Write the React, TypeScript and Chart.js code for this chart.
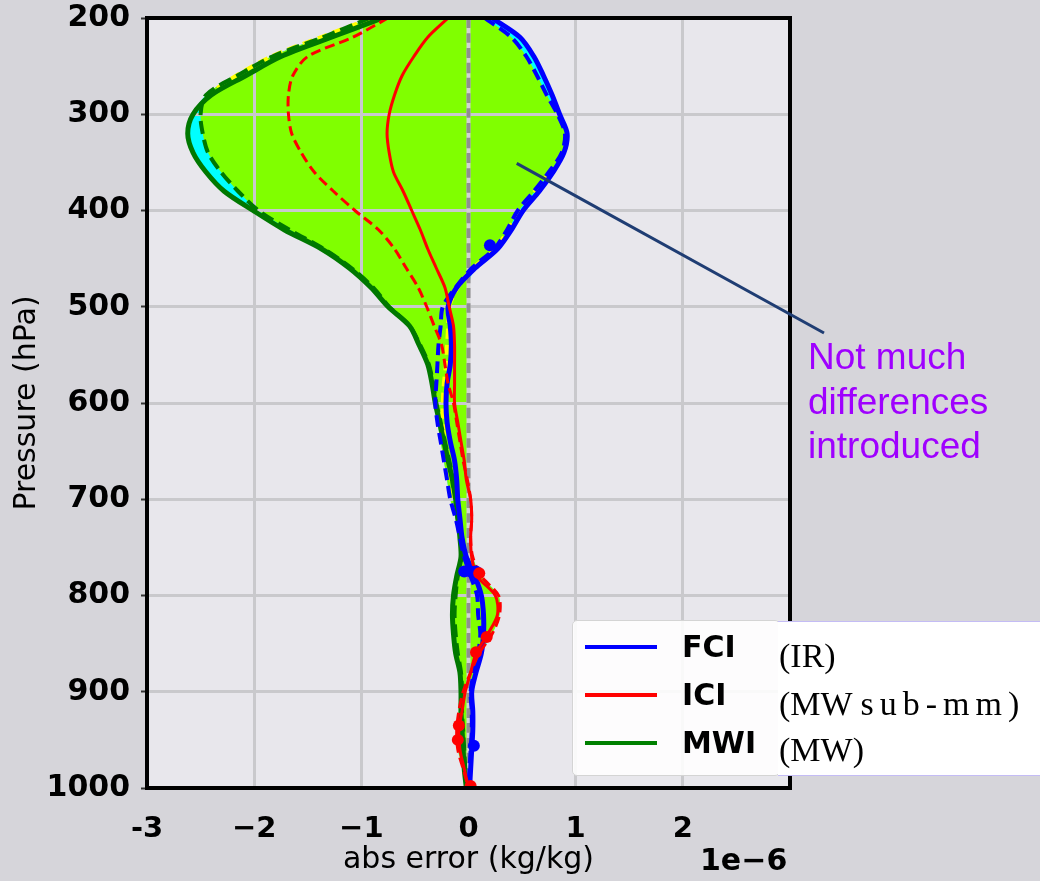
import React, { useEffect, useRef } from 'react';
import { Chart, registerables } from 'chart.js';

Chart.register(...registerables);

// Pressure levels (hPa)
const pressureLevels = [
  200, 220, 240, 260, 280, 300, 320, 340, 360, 380,
  400, 420, 440, 460, 480, 500, 520, 540, 560, 580,
  600, 620, 640, 660, 680, 700, 720, 740, 760, 780,
  800, 820, 840, 860, 880, 900, 920, 940, 960, 980, 1000,
];

// abs error values (x 1e-6 kg/kg)
const fciSolid = [
  0.22, 0.48, 0.61, 0.70, 0.78, 0.85, 0.92, 0.89, 0.79, 0.66,
  0.51, 0.40, 0.27, 0.06, -0.11, -0.19, -0.17, -0.16, -0.17, -0.20,
  -0.21, -0.20, -0.17, -0.13, -0.11, -0.10, -0.08, -0.06, -0.02, 0.06,
  0.12, 0.14, 0.14, 0.12, 0.07, 0.03, 0.04, 0.04, 0.03, 0.02, 0.01,
];
const fciDashed = [
  0.15, 0.40, 0.54, 0.64, 0.73, 0.83, 0.90, 0.87, 0.75, 0.61,
  0.46, 0.36, 0.24, 0.03, -0.12, -0.24, -0.26, -0.28, -0.29, -0.30,
  -0.31, -0.29, -0.26, -0.23, -0.20, -0.17, -0.12, -0.08, -0.04, 0.02,
  0.08, 0.09, 0.11, 0.09, 0.05, 0.02, 0.03, 0.03, 0.02, 0.01, 0.0,
];
const iciSolid = [
  -0.19, -0.38, -0.51, -0.62, -0.69, -0.74, -0.76, -0.74, -0.70, -0.61,
  -0.53, -0.45, -0.38, -0.30, -0.22, -0.18, -0.14, -0.13, -0.13, -0.13,
  -0.13, -0.10, -0.07, -0.04, -0.02, 0.02, 0.03, 0.02, 0.03, 0.08,
  0.25, 0.27, 0.18, 0.07, 0.02, -0.03, -0.06, -0.09, -0.08, -0.04, 0.0,
];
const iciDashed = [
  -0.75, -1.08, -1.50, -1.64, -1.68, -1.68, -1.65, -1.56, -1.44, -1.26,
  -1.06, -0.84, -0.69, -0.58, -0.47, -0.39, -0.32, -0.25, -0.22, -0.19,
  -0.14, -0.11, -0.08, -0.05, -0.01, 0.02, 0.03, 0.02, 0.04, 0.12,
  0.28, 0.29, 0.22, 0.10, 0.02, -0.05, -0.09, -0.11, -0.10, -0.05, 0.0,
];
const mwiSolid = [
  -0.80, -1.28, -1.75, -2.08, -2.40, -2.57, -2.62, -2.57, -2.45, -2.28,
  -2.01, -1.72, -1.37, -1.11, -0.91, -0.75, -0.55, -0.46, -0.38, -0.34,
  -0.31, -0.27, -0.23, -0.19, -0.15, -0.12, -0.10, -0.08, -0.07, -0.11,
  -0.14, -0.15, -0.14, -0.12, -0.08, -0.07, -0.07, -0.06, -0.05, -0.04, -0.02,
];
const mwiDashed = [
  -0.92, -1.36, -1.83, -2.16, -2.45, -2.50, -2.48, -2.43, -2.31, -2.15,
  -1.96, -1.67, -1.35, -1.09, -0.89, -0.74, -0.55, -0.45, -0.37, -0.33,
  -0.30, -0.26, -0.22, -0.18, -0.14, -0.11, -0.09, -0.07, -0.06, -0.10,
  -0.12, -0.13, -0.12, -0.10, -0.07, -0.06, -0.06, -0.05, -0.04, -0.03, -0.02,
];
const yellowDashed = [
  -0.90, -1.38, -1.84, -2.17, -2.44, null, null, null, 0.76, 0.62,
  0.47, 0.37, 0.25, 0.04, -0.10, -0.18, -0.19, -0.20, -0.21, -0.23,
  -0.24, -0.24, -0.22, -0.19, -0.16, -0.13, -0.10, null, null, null,
  null, null, null, null, null, null, null, null, null, null, null,
];
// zero reference line (gray dashed), drawn over the whole pressure range
const zeroLine = [
  0, 0, 0, 0, 0, 0, 0, 0, 0, 0,
  0, 0, 0, 0, 0, 0, 0, 0, 0, 0,
  0, 0, 0, 0, 0, 0, 0, 0, 0, 0,
  0, 0, 0, 0, 0, 0, 0, 0, 0, 0, 0,
];

const fciDots = [
  { x: 0.20, y: 436 }, { x: -0.04, y: 775 }, { x: 0.02, y: 775 },
  { x: 0.07, y: 775 }, { x: 0.05, y: 956 },
];
const iciDots = [
  { x: 0.10, y: 777 }, { x: 0.17, y: 843 }, { x: 0.07, y: 859 },
  { x: -0.09, y: 935 }, { x: -0.1, y: 950 }, { x: 0.02, y: 998 },
];

const xTickValues = [-3, -2, -1, 0, 1, 2, 3];
const xTickLabels = ['-3', '\u22122', '\u22121', '0', '1', '2', ''];
const yTickValues = [200, 300, 400, 500, 600, 700, 800, 900, 1000];
const yTickLabels = ['200', '300', '400', '500', '600', '700', '800', '900', '1000'];

const toPoints = (arr: (number | null)[]) =>
  pressureLevels.map((p, i) => ({ x: arr[i], y: p }));

const envelope = (curves: (number | null)[][]) => {
  const lo: { x: number; y: number }[] = [];
  const hi: { x: number; y: number }[] = [];
  pressureLevels.forEach((p, i) => {
    const vals = curves.map((c) => c[i]).filter((v) => v !== null) as number[];
    lo.push({ x: Math.min(...vals), y: p });
    hi.push({ x: Math.max(...vals), y: p });
  });
  return [...lo, ...hi.reverse()];
};

const allCurves = [mwiSolid, mwiDashed, fciSolid, fciDashed, iciSolid, iciDashed, yellowDashed, zeroLine];
const dashedCurves = [mwiDashed, fciDashed, iciDashed, yellowDashed, zeroLine];

const FONT = "'DejaVu Sans', sans-serif";

export default function App() {
  const canvasRef = useRef<HTMLCanvasElement | null>(null);

  useEffect(() => {
    const canvas = canvasRef.current;
    if (!canvas) return;

    const framePlugin = {
      id: 'frame',
      afterDatasetsDraw(chart: any) {
        const { ctx, chartArea } = chart;
        const { left, top, right, bottom } = chartArea;
        ctx.save();
        ctx.strokeStyle = '#000';
        ctx.lineWidth = 4;
        ctx.strokeRect(left, top, right - left, bottom - top);
        // annotation pointer line
        const sx = chart.scales.x.getPixelForValue(0.45);
        const sy = chart.scales.y.getPixelForValue(351);
        ctx.strokeStyle = '#1f3d73';
        ctx.lineWidth = 3;
        ctx.beginPath();
        ctx.moveTo(sx, sy);
        ctx.lineTo(824, 333);
        ctx.stroke();
        ctx.restore();
      },
    };

    const line = (arr: (number | null)[], color: string, width: number, dash: number[], order: number) => ({
      data: toPoints(arr),
      borderColor: color,
      borderWidth: width,
      borderDash: dash,
      pointRadius: 0,
      tension: 0.3,
      fill: false,
      spanGaps: false,
      order,
    });

    const chart = new Chart(canvas, {
      type: 'line',
      data: {
        datasets: [
          {
            data: envelope(allCurves),
            backgroundColor: '#00ffff',
            borderColor: 'transparent',
            borderWidth: 0,
            pointRadius: 0,
            tension: 0.3,
            fill: 'shape',
            order: 20,
          },
          {
            data: envelope(dashedCurves),
            backgroundColor: '#80ff00',
            borderColor: 'transparent',
            borderWidth: 0,
            pointRadius: 0,
            tension: 0.3,
            fill: 'shape',
            order: 19,
          },
          {
            data: toPoints(zeroLine),
            borderColor: '#d2d2d4',
            borderWidth: 4,
            pointRadius: 0,
            fill: false,
            tension: 0.3,
            order: 18.5,
          },
          line(zeroLine, '#8f8f8f', 4, [10, 5], 18),
          line(yellowDashed, '#ffff00', 4, [10, 6], 17),
          line(mwiSolid, '#007800', 5, [], 16),
          line(mwiDashed, '#007800', 4, [13, 6], 15),
          line(fciSolid, '#0000ff', 5, [], 14),
          line(fciDashed, '#0000ff', 4, [12, 6], 13),
          line(iciSolid, '#ff0000', 3, [], 12),
          line(iciDashed, '#ff0000', 3, [10, 5], 11),
          {
            data: fciDots,
            showLine: false,
            pointRadius: 6,
            pointBackgroundColor: '#0000ff',
            pointBorderWidth: 0,
            order: 2,
          },
          {
            data: iciDots,
            showLine: false,
            pointRadius: 6,
            pointBackgroundColor: '#ff0000',
            pointBorderWidth: 0,
            order: 1,
          },
        ] as any,
      },
      options: {
        animation: false,
        responsive: false,
        devicePixelRatio: 1,
        indexAxis: 'y',
        layout: { padding: { top: 18, right: 250, bottom: 0, left: 0 } },
        plugins: {
          legend: { display: false },
          tooltip: { enabled: false },
          filler: { drawTime: 'beforeDraw' },
        } as any,
        scales: {
          x: {
            type: 'linear',
            position: 'bottom',
            min: -3,
            max: 3,
            ticks: {
              stepSize: 1,
              padding: 24,
              color: '#000',
              font: { family: FONT, size: 29, weight: 'bold' },
              callback: (v: any) => xTickLabels[xTickValues.indexOf(Number(v))] ?? '',
              maxRotation: 0,
            },
            grid: { color: '#c9c9cc', lineWidth: 3, drawTicks: false },
            border: { display: false },
            title: {
              display: true,
              text: 'abs error (kg/kg)',
              color: '#000',
              font: { family: FONT, size: 30 },
              padding: { top: 0, bottom: 3 },
            },
            afterFit: (s: any) => {
              s.height = 93;
              s.paddingLeft = 0;
              s.paddingRight = 0;
            },
          },
          y: {
            type: 'linear',
            position: 'left',
            reverse: true,
            min: 200,
            max: 1000,
            ticks: {
              stepSize: 100,
              padding: 11,
              color: '#000',
              font: { family: FONT, size: 30, weight: 'bold' },
              callback: (v: any) => yTickLabels[yTickValues.indexOf(Number(v))] ?? '',
            },
            grid: { color: '#c9c9cc', lineWidth: 3, drawTicks: true, tickLength: 6, tickColor: '#333', tickWidth: 2 },
            border: { display: false },
            title: {
              display: true,
              text: 'Pressure (hPa)',
              color: '#000',
              font: { family: FONT, size: 30 },
              padding: { top: 9, bottom: 0 },
            },
            afterFit: (s: any) => {
              s.width = 147;
              s.paddingTop = 0;
              s.paddingBottom = 0;
            },
          },
        } as any,
      },
      plugins: [framePlugin],
    });

    return () => chart.destroy();
  }, []);

  const legendItems = [
    { label: 'FCI', color: '#0000ff', cy: 647 },
    { label: 'ICI', color: '#ff0000', cy: 695 },
    { label: 'MWI', color: '#008000', cy: 743 },
  ];

  return (
    <div
      style={{
        position: 'fixed',
        left: 0,
        top: 0,
        width: 1040,
        height: 881,
        background: '#d6d5da',
        overflow: 'hidden',
      }}
    >
      <div style={{ position: 'absolute', left: 147, top: 18, width: 643, height: 770, background: '#e8e7ec' }} />
      <canvas ref={canvasRef} width={1040} height={881} style={{ position: 'absolute', left: 0, top: 0, width: 1040, height: 881 }} />

      {/* offset text */}
      <div style={{ position: 'absolute', left: 700, top: 842, fontFamily: FONT, fontWeight: 'bold', fontSize: 30, lineHeight: '36px', color: '#000' }}>
        1e{'\u2212'}6
      </div>

      {/* legend */}
      <div style={{ position: 'absolute', left: 572, top: 620, width: 208, height: 156, background: 'rgba(255,255,255,0.88)', border: '1px solid #d4d4d4', borderRadius: 5, boxSizing: 'border-box' }} />
      <div style={{ position: 'absolute', left: 778, top: 621, width: 262, height: 155, background: '#fff', borderTop: '1px solid #c4bcf5', borderBottom: '1px solid #c4bcf5', boxSizing: 'border-box' }} />
      {legendItems.map((it) => (
        <React.Fragment key={it.label}>
          <div style={{ position: 'absolute', left: 585, top: it.cy - 2, width: 72, height: 4, background: it.color }} />
          <div style={{ position: 'absolute', left: 682, top: it.cy - 18, fontFamily: FONT, fontWeight: 'bold', fontSize: 30, lineHeight: '36px', color: '#000' }}>
            {it.label}
          </div>
        </React.Fragment>
      ))}
      <div style={{ position: 'absolute', left: 779, top: 638, fontFamily: "'Liberation Serif', serif", fontSize: 34, lineHeight: '36px', color: '#000', whiteSpace: 'nowrap' }}>(IR)</div>
      <div style={{ position: 'absolute', left: 779, top: 686, fontFamily: "'Liberation Serif', serif", fontSize: 34, lineHeight: '36px', color: '#000', whiteSpace: 'nowrap' }}>
        (MW <span style={{ letterSpacing: 6 }}>sub-mm</span>)
      </div>
      <div style={{ position: 'absolute', left: 779, top: 732, fontFamily: "'Liberation Serif', serif", fontSize: 34, lineHeight: '36px', color: '#000', whiteSpace: 'nowrap' }}>(MW)</div>

      {/* annotation text */}
      <div style={{ position: 'absolute', left: 808, top: 335, fontFamily: "'Liberation Sans', Arial, sans-serif", fontSize: 37, lineHeight: '44.5px', color: '#9f00ff' }}>
        Not much<br />differences<br />introduced
      </div>
    </div>
  );
}
